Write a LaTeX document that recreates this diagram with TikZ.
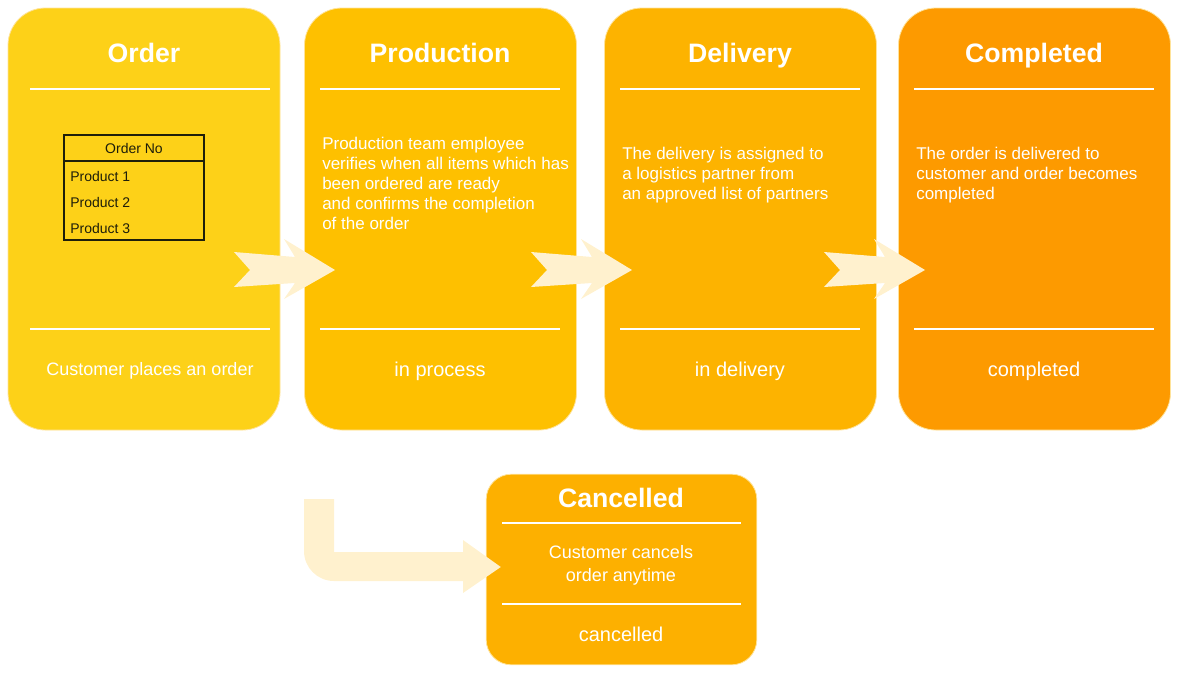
\documentclass[tikz,border=0pt]{standalone}
\usepackage{fontspec}
\setmainfont{Liberation Sans}
\definecolor{cOrder}{HTML}{FDD118}
\definecolor{cProd}{HTML}{FEC000}
\definecolor{cDeliv}{HTML}{FDB300}
\definecolor{cDone}{HTML}{FD9A00}
\definecolor{cCancel}{HTML}{FDB000}
\definecolor{cEdge}{HTML}{FFE39A}
\definecolor{cArrow}{HTML}{FFF1CE}
\definecolor{cInk}{HTML}{1E1E0A}
\begin{document}
\begin{tikzpicture}[x=0.75pt,y=-0.75pt,
  stagebox/.style={rectangle, rounded corners=28pt, minimum width=204pt, minimum height=316.5pt, draw=cEdge, line width=0.6pt, inner sep=0pt},
  cancelbox/.style={rectangle, rounded corners=19pt, minimum width=203pt, minimum height=143pt, draw=cEdge, line width=0.6pt, inner sep=0pt},
  titletext/.style={text=white, font=\fontsize{20}{24}\selectfont\bfseries, anchor=base, inner sep=0pt},
  bodytext/.style={text=white, font=\fontsize{12.75}{15}\selectfont, align=left, anchor=north west, inner sep=0pt},
  statetext/.style={text=white, font=\fontsize{15}{18}\selectfont, anchor=base, inner sep=0pt},
  sepline/.style={draw=white, line width=1.4pt},
  tabletext/.style={text=cInk, font=\fontsize{10.5}{12}\selectfont, inner sep=0pt},
  flow/.style={fill=cArrow, draw=none}
]
\useasboundingbox (0,0) rectangle (1194,679);

% stage boxes
\node[stagebox, fill=cOrder] (order) at (144,219) {};
\node[stagebox, fill=cProd] (prod) at (440.5,219) {};
\node[stagebox, fill=cDeliv] (deliv) at (740.5,219) {};
\node[stagebox, fill=cDone] (done) at (1034.5,219) {};
\node[cancelbox, fill=cCancel] (cancel) at (621.5,569.5) {};

% titles
\node[titletext] (ordertitle) at (144,62) {Order};
\node[titletext] (prodtitle) at (440,62) {Production};
\node[titletext] (delivtitle) at (740,62) {Delivery};
\node[titletext] (donetitle) at (1034,62) {Completed};
\node[titletext] (canceltitle) at (621,507) {Cancelled};

% separator lines
\draw[sepline] (30,89) -- (270,89);
\draw[sepline] (30,329) -- (270,329);
\draw[sepline] (320,89) -- (560,89);
\draw[sepline] (320,329) -- (560,329);
\draw[sepline] (620,89) -- (860,89);
\draw[sepline] (620,329) -- (860,329);
\draw[sepline] (914,89) -- (1154,89);
\draw[sepline] (914,329) -- (1154,329);
\draw[sepline] (502,523) -- (741,523);
\draw[sepline] (502,604) -- (741,604);

% order table
\node[draw=cInk, line width=1.5pt, rectangle, minimum width=105pt, minimum height=78.75pt, inner sep=0pt] (table) at (134,187.5) {};
\draw[draw=cInk, line width=1.5pt] (table.west |- 0,161) -- (table.east |- 0,161);
\node[tabletext, anchor=base] (orderno) at (134,153) {Order No};
\node[tabletext, anchor=base west] (p1) at (70,181) {Product 1};
\node[tabletext, anchor=base west] (p2) at (70,207) {Product 2};
\node[tabletext, anchor=base west] (p3) at (70,233) {Product 3};

% body texts
\node[bodytext] (prodbody) at (322,137) {Production team employee\\verifies when all items which has\\been ordered are ready\\and confirms the completion\\of the order};
\node[bodytext] (delivbody) at (622,147) {The delivery is assigned to\\a logistics partner from\\an approved list of partners};
\node[bodytext] (donebody) at (916,147) {The order is delivered to\\customer and order becomes\\completed};
\node[text=white, font=\fontsize{13.5}{17.25}\selectfont, align=center, anchor=north, inner sep=0pt] (cancelbody) at (621,545) {Customer cancels\\order anytime};

% state texts
\node[statetext, font=\fontsize{13.5}{16}\selectfont] (orderstate) at (150,375) {Customer places an order};
\node[statetext] (prodstate) at (440,376) {in process};
\node[statetext] (delivstate) at (740,376) {in delivery};
\node[statetext] (donestate) at (1034,376) {completed};
\node[statetext] (cancelstate) at (621,641) {cancelled};

% chevron arrows between stages
\foreach \dx in {0,297,590}{
  \fill[flow, shift={(\dx,0)}] (234,252) -- (295,257) -- (284,239) -- (335,270) -- (284,299) -- (295,283) -- (234,287) -- (250,270) -- cycle;
}

% bent arrow to cancelled
\coordinate (canceltip) at ([xshift=11.25pt]cancel.west);
\fill[flow] (304,499) -- (334,499) -- (334,552) -- (463,552) -- (463,540) -- (canceltip |- 0,567) -- (463,593) -- (463,581) -- (334,581) .. controls (317.4,581) and (304,567.6) .. (304,551) -- cycle;
\end{tikzpicture}
\end{document}
